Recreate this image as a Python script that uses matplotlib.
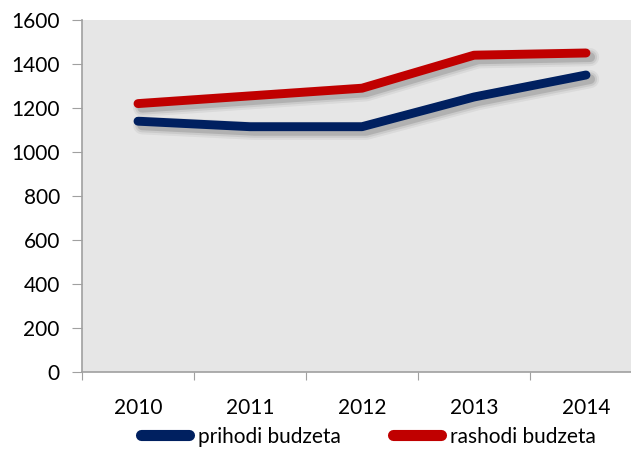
import matplotlib
matplotlib.use('Agg')
import matplotlib.pyplot as plt
import matplotlib.patheffects as pe

years = ['2010', '2011', '2012', '2013', '2014']
prihodi = [1140, 1115, 1115, 1250, 1350]
rashodi = [1220, 1255, 1290, 1440, 1450]

plt.rcParams['font.family'] = ['Lato', 'DejaVu Sans']

fig = plt.figure(figsize=(6.31, 4.54), dpi=100)
# plot area runs past the right edge of the picture, like the original
ax = fig.add_axes([82/631, 1 - 372/454, 560/631, 352/454])
ax.set_facecolor('#e6e6e6')

def shadow():
    fx = [pe.SimpleLineShadow(offset=(3, -3), shadow_color='#000000', alpha=a, linewidth=w)
          for a, w in ((0.05, 13), (0.07, 10), (0.12, 7))]
    return fx + [pe.Normal()]

x = list(range(len(years)))
ax.plot(x, prihodi, color='#002060', lw=6.4, solid_capstyle='round', solid_joinstyle='round',
        label='prihodi budzeta', path_effects=shadow())
ax.plot(x, rashodi, color='#c00000', lw=6.4, solid_capstyle='round', solid_joinstyle='round',
        label='rashodi budzeta', path_effects=shadow())

ax.set_xlim(-0.5, 4.5)
ax.set_ylim(0, 1600)
ax.set_yticks(range(0, 1601, 200))
ax.set_xticks([i + 0.5 for i in range(-1, 5)])
ax.set_xticklabels([])
ax.set_xticks(x, minor=True)
ax.set_xticklabels(years, minor=True)
ax.tick_params(axis='x', which='minor', length=0, pad=19, labelsize=15)
ax.tick_params(axis='x', which='major', length=6, color='#a0a0a0', direction='out')
ax.tick_params(axis='y', length=7, color='#a0a0a0', labelsize=15, pad=9)

for s in ('top', 'right'):
    ax.spines[s].set_visible(False)
for s in ('left', 'bottom'):
    ax.spines[s].set_color('#a0a0a0')
    ax.spines[s].set_linewidth(1.2)

leg = fig.legend(loc='lower left', bbox_to_anchor=(122/631, -0.025), ncol=2, frameon=False,
                 fontsize=15, handlelength=2.3, handletextpad=0.45, columnspacing=2.5)
for h in leg.get_lines():
    h.set_path_effects([])
    h.set_linewidth(8)
    h.set_solid_capstyle('round')

fig.savefig('out.png', dpi=100)
